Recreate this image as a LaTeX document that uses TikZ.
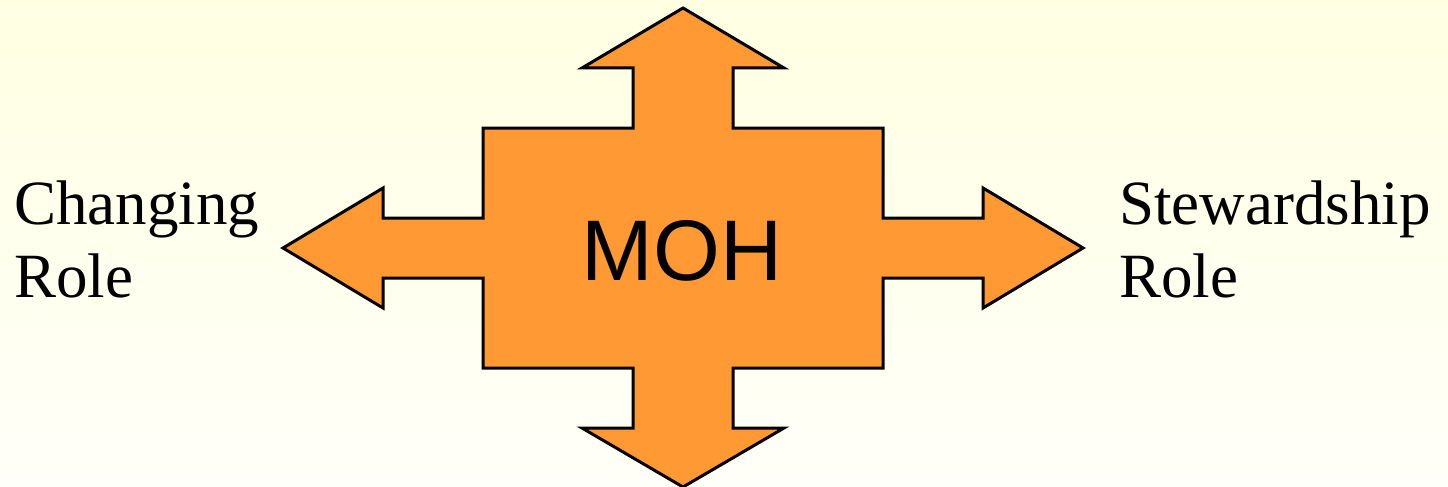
\documentclass[tikz,border=0pt]{standalone}
\usepackage{fontspec}
\setmainfont{Liberation Serif}
\newfontfamily\arialfont{Liberation Sans}
\definecolor{bgtop}{RGB}{255,255,226}
\definecolor{bgbot}{RGB}{255,255,249}
\definecolor{mohorange}{RGB}{255,153,51}
\tikzset{
  crossshape/.style={fill=mohorange, draw=black, line width=3pt, line join=miter},
  sidelabel/.style={anchor=base west, align=left, inner sep=0pt, font=\fontsize{63}{73}\selectfont},
  centerlabel/.style={inner sep=0pt, font=\arialfont\fontsize{86}{90}\selectfont}
}
\begin{document}
\begin{tikzpicture}[x=1pt,y=-1pt]
\useasboundingbox (0,0) rectangle (1448,487);
\shade[top color=bgtop, bottom color=bgbot] (0,0) rectangle (1448,487);
\draw[crossshape] (683,8) -- (784,68) -- (733,68) -- (733,128) -- (883,128) -- (883,218)
  -- (983,218) -- (983,188) -- (1083,248) -- (983,308) -- (983,278) -- (883,278)
  -- (883,368) -- (733,368) -- (733,428) -- (784,428) -- (683,487) -- (582,428)
  -- (633,428) -- (633,368) -- (483,368) -- (483,278) -- (383,278) -- (383,308)
  -- (283,248) -- (383,188) -- (383,218) -- (483,218) -- (483,128) -- (633,128)
  -- (633,68) -- (582,68) -- cycle;
\node[centerlabel, anchor=base] (moh) at (682,280) {MOH};
\node[sidelabel] (changing) at (14,297) {Changing\\Role};
\node[sidelabel] (stewardship) at (1119,297) {Stewardship\\Role};
\end{tikzpicture}
\end{document}
